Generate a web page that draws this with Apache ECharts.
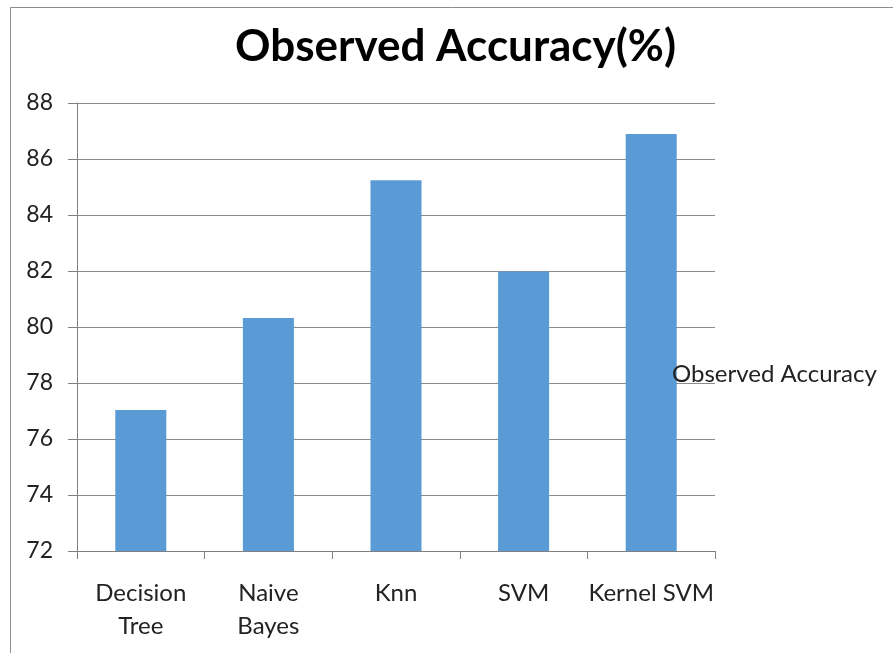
<!DOCTYPE html>
<html>
<head>
<meta charset="utf-8">
<script src="https://cdn.jsdelivr.net/npm/echarts@6/dist/echarts.min.js"></script>
<style>html,body{margin:0;padding:0;background:#fff}#c{width:893px;height:653px}</style>
</head>
<body>
<div id="c"></div>
<script>
var categories = ['Decision\nTree', 'Naive\nBayes', 'Knn', 'SVM', 'Kernel SVM'];
var accuracy = [77.04, 80.32, 85.24, 81.98, 86.89];
var seriesName = 'Observed Accuracy';
var titleText = 'Observed Accuracy(%)';

var chart = echarts.init(document.getElementById('c'));
var font = 'Lato, "Open Sans", sans-serif';
chart.setOption({
  animation: false,
  backgroundColor: '#fff',
  graphic: [{
    type: 'rect', shape: {x: 10.5, y: 7.5, width: 1000, height: 1000},
    style: {fill: 'none', stroke: '#8c8c8c', lineWidth: 1}, silent: true
  }],
  title: {
    text: titleText, left: 230, top: 20,
    textStyle: {fontFamily: font, fontSize: 44, fontWeight: 'bold', color: '#000'}
  },
  legend: {
    data: [seriesName], left: 667, top: 357, icon: 'rect', itemWidth: 0, itemHeight: 0, itemGap: 0,
    textStyle: {fontFamily: font, fontSize: 24, color: '#222', padding: [0,0,0,-8]}
  },
  grid: {left: 77, right: 178, top: 103, bottom: 102},
  xAxis: {
    type: 'category', data: categories,
    axisLine: {lineStyle: {color: '#808080'}},
    axisTick: {show: true, alignWithLabel: false, length: 8, lineStyle: {color: '#808080'}},
    axisLabel: {fontFamily: font, fontSize: 24, color: '#222', margin: 26, lineHeight: 33, interval: 0}
  },
  yAxis: {
    type: 'value', min: 72, max: 88, interval: 2,
    axisLine: {show: true, lineStyle: {color: '#808080'}},
    axisTick: {show: true, length: 9, lineStyle: {color: '#808080'}},
    splitLine: {lineStyle: {color: '#8c8c8c'}},
    axisLabel: {fontFamily: font, fontSize: 23, color: '#222', margin: 24}
  },
  series: [{
    name: seriesName, type: 'bar', data: accuracy, barWidth: '40%',
    itemStyle: {color: '#5b9bd5'}
  }]
});
</script>
</body>
</html>
